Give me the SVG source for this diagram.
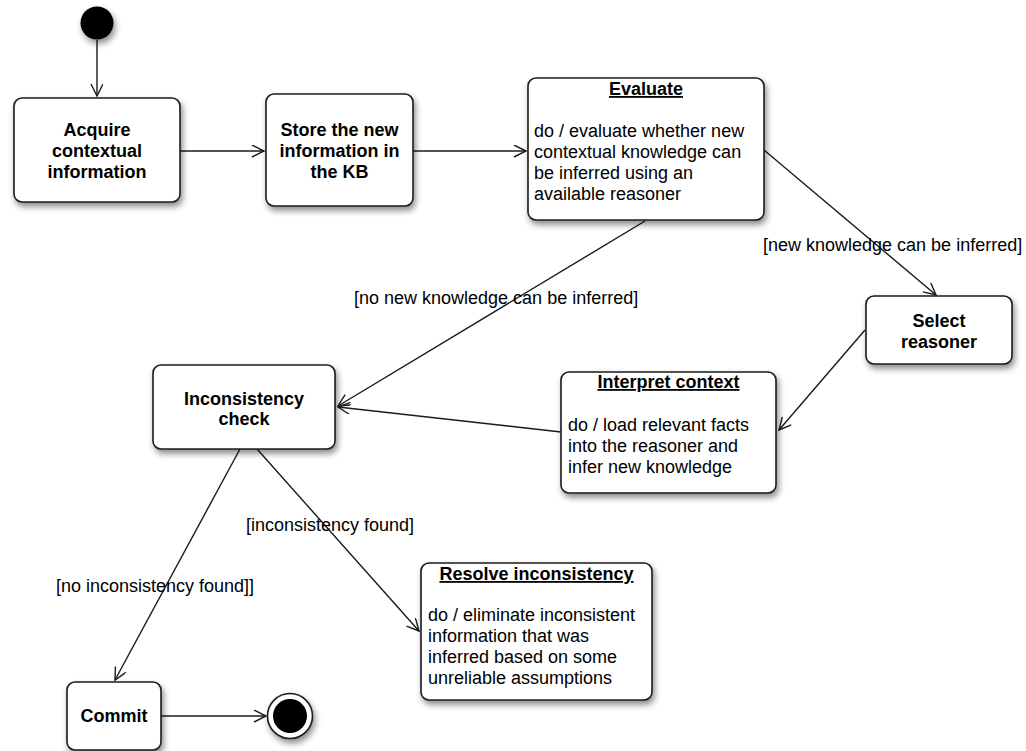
<svg xmlns="http://www.w3.org/2000/svg" width="1026" height="751" viewBox="0 0 1026 751">
  <style>
    .state { fill: #fff; stroke: #1a1a1a; stroke-width: 1.6; filter: url(#shadow); }
    .name { font-family: "Liberation Sans", Arial, sans-serif; font-size: 18px; font-weight: bold; fill: #000; text-anchor: middle; }
    .title { font-family: "Liberation Sans", Arial, sans-serif; font-size: 18px; font-weight: bold; fill: #000; text-anchor: middle; text-decoration: underline; }
    .body { font-family: "Liberation Sans", Arial, sans-serif; font-size: 18px; fill: #000; }
    .guard { font-family: "Liberation Sans", Arial, sans-serif; font-size: 18px; fill: #000; }
    .edge { fill: none; stroke: #1a1a1a; stroke-width: 1.4; marker-end: url(#open); }
  </style>
  <defs>
    <filter id="shadow" x="-20%" y="-20%" width="140%" height="150%">
      <feDropShadow dx="2" dy="4" stdDeviation="3" flood-color="#000" flood-opacity="0.45"/>
    </filter>
    <marker id="open" markerUnits="userSpaceOnUse" markerWidth="16" markerHeight="16" refX="13" refY="6" orient="auto">
      <path d="M1,0 L13,6 L1,12" fill="none" stroke="#1a1a1a" stroke-width="1.4"/>
    </marker>
  </defs>

  <rect width="1026" height="751" fill="#fff"/>

  <g id="connectors">
    <line class="edge" x1="97" y1="40" x2="97" y2="96"/>
    <line class="edge" x1="180" y1="151" x2="264" y2="151"/>
    <line class="edge" x1="413" y1="151" x2="526" y2="151"/>
    <line class="edge" x1="764" y1="150" x2="936" y2="295"/>
    <line class="edge" x1="645" y1="221" x2="338" y2="406"/>
    <line class="edge" x1="865" y1="330" x2="779" y2="430"/>
    <line class="edge" x1="561" y1="432" x2="338" y2="407"/>
    <line class="edge" x1="257" y1="449" x2="419" y2="631"/>
    <line class="edge" x1="240" y1="449" x2="115" y2="680"/>
    <line class="edge" x1="161" y1="716" x2="266" y2="716"/>
    <text class="guard" x="763" y="251">[new knowledge can be inferred]</text>
    <text class="guard" x="354" y="304">[no new knowledge can be inferred]</text>
    <text class="guard" x="246" y="531">[inconsistency found]</text>
    <text class="guard" x="56" y="592">[no inconsistency found]]</text>
  </g>

  <g id="start">
    <circle cx="97" cy="23" r="16.5" fill="#000" filter="url(#shadow)"/>
  </g>

  <g id="acquire">
    <rect class="state" x="14" y="98" width="166" height="104" rx="8"/>
    <text class="name" x="97" y="136">Acquire</text>
    <text class="name" x="97" y="157">contextual</text>
    <text class="name" x="97" y="178">information</text>
  </g>

  <g id="store">
    <rect class="state" x="266" y="94" width="147" height="112" rx="8"/>
    <text class="name" x="339.5" y="136">Store the new</text>
    <text class="name" x="339.5" y="157">information in</text>
    <text class="name" x="339.5" y="178">the KB</text>
  </g>

  <g id="evaluate">
    <rect class="state" x="528" y="78" width="236" height="142" rx="8"/>
    <text class="title" x="646" y="95">Evaluate</text>
    <text class="body" x="534" y="137">do / evaluate whether new</text>
    <text class="body" x="534" y="158">contextual knowledge can</text>
    <text class="body" x="534" y="179">be inferred using an</text>
    <text class="body" x="534" y="200">available reasoner</text>
  </g>

  <g id="select-reasoner">
    <rect class="state" x="866" y="296" width="146" height="68" rx="8"/>
    <text class="name" x="939" y="327">Select</text>
    <text class="name" x="939" y="348">reasoner</text>
  </g>

  <g id="interpret-context">
    <rect class="state" x="561" y="372" width="215" height="121" rx="8"/>
    <text class="title" x="668.5" y="388">Interpret context</text>
    <text class="body" x="568" y="431">do / load relevant facts</text>
    <text class="body" x="568" y="452">into the reasoner and</text>
    <text class="body" x="568" y="473">infer new knowledge</text>
  </g>

  <g id="inconsistency-check">
    <rect class="state" x="153" y="365" width="182" height="84" rx="8"/>
    <text class="name" x="244" y="405">Inconsistency</text>
    <text class="name" x="244" y="425">check</text>
  </g>

  <g id="resolve-inconsistency">
    <rect class="state" x="421" y="563" width="231" height="137" rx="8"/>
    <text class="title" x="536.5" y="580">Resolve inconsistency</text>
    <text class="body" x="428" y="621">do / eliminate inconsistent</text>
    <text class="body" x="428" y="642">information that was</text>
    <text class="body" x="428" y="663">inferred based on some</text>
    <text class="body" x="428" y="684">unreliable assumptions</text>
  </g>

  <g id="commit">
    <rect class="state" x="67" y="682" width="94" height="68" rx="8"/>
    <text class="name" x="114" y="722">Commit</text>
  </g>

  <g id="end">
    <circle cx="290" cy="716" r="22.5" fill="#fff" stroke="#1a1a1a" stroke-width="1.6" filter="url(#shadow)"/>
    <circle cx="290" cy="716" r="17" fill="#000"/>
  </g>
</svg>
